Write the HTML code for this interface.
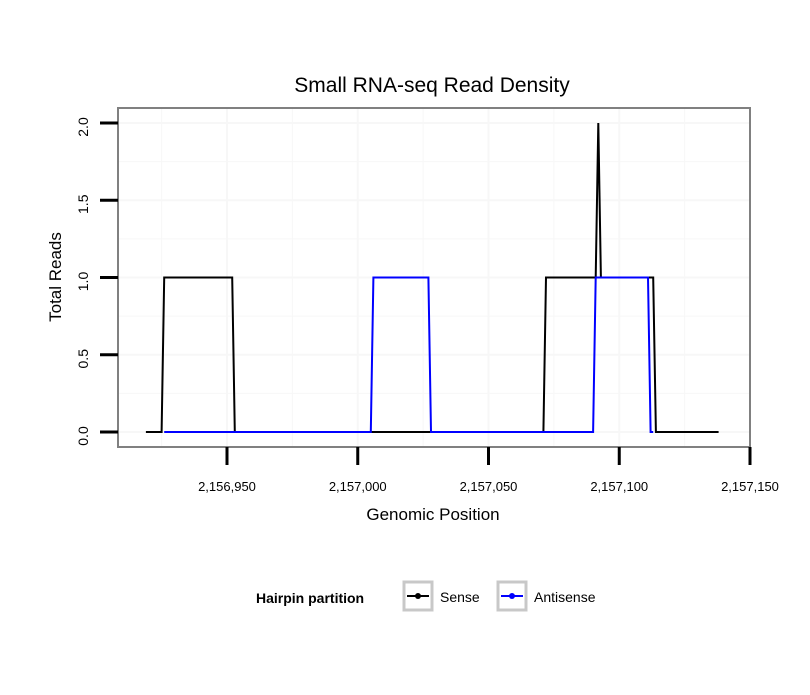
<!DOCTYPE html>
<html><head><meta charset="utf-8"><style>body{margin:0;background:#fff}svg{font-family:"Liberation Sans",sans-serif}</style></head>
<body>
<svg id="c" width="810" height="690"></svg>
<script>
const senseX=[2156919,2156925,2156926,2156952,2156953,2157071,2157072,2157091,2157092,2157093,2157113,2157114,2157138];
const senseY=[0,0,1,1,0,0,1,1,2,1,1,0,0];
const antiX=[2156926,2157005,2157006,2157027,2157028,2157090,2157091,2157111,2157112,2157113];
const antiY=[0,0,1,1,0,0,1,1,0,0];
const xTicks=[2156950,2157000,2157050,2157100,2157150];
const xTickLabels=["2,156,950","2,157,000","2,157,050","2,157,100","2,157,150"];
const yTicks=[0,0.5,1,1.5,2];
const yTickLabels=["0.0","0.5","1.0","1.5","2.0"];
const svg=document.getElementById('c');const NS='http://www.w3.org/2000/svg';
function X(p){return 227+(p-2156950)*(523/200);}
function Y(v){return 432-v*154.5;}
function mk(t,a,txt){const e=document.createElementNS(NS,t);for(const k in a)e.setAttribute(k,a[k]);if(txt!==undefined)e.textContent=txt;svg.appendChild(e);return e;}
const L=118,R=750,T=108,B=447;
for(let i=0;i<xTicks.length;i++){for(const p of [xTicks[i],xTicks[i]-25]){if(X(p)<=L||X(p)>=R)continue;const g=mk('line',{x1:X(p),x2:X(p),y1:T,y2:B,stroke:'#f7f7f7','stroke-width':p===xTicks[i]?2:1});}}
for(let i=0;i<yTicks.length;i++){for(const v of [yTicks[i],yTicks[i]+0.25]){if(Y(v)<=T)continue;const g=mk('line',{x1:L,x2:R,y1:Y(v),y2:Y(v),stroke:'#f7f7f7','stroke-width':v===yTicks[i]?2:1});}}
function line(xs,ys,col,name){const d=xs.map((p,i)=>(i?'L':'M')+X(p).toFixed(1)+' '+Y(ys[i]).toFixed(1)).join(' ');const e=mk('path',{d:d,fill:'none',stroke:col,'stroke-width':2});}
line(senseX,senseY,'#000','sense-line');
line(antiX,antiY,'#0000ff','antisense-line');
const pb=mk('rect',{x:L,y:T,width:R-L,height:B-T,fill:'none',stroke:'#808080','stroke-width':2});
for(let i=0;i<xTicks.length;i++){const x=X(xTicks[i]);const t=mk('line',{x1:x,x2:x,y1:B,y2:465,stroke:'#000','stroke-width':3});
const l=mk('text',{x:x,y:491,'font-size':13,'text-anchor':'middle'},xTickLabels[i]);}
for(let i=0;i<yTicks.length;i++){const y=Y(yTicks[i]);const t=mk('line',{x1:100,x2:L,y1:y,y2:y,stroke:'#000','stroke-width':3});
const l=mk('text',{x:0,y:0,'font-size':14,'text-anchor':'middle',transform:`translate(88,${y+4}) rotate(-90)`},yTickLabels[i]);}
let e=mk('text',{x:432,y:92,'font-size':21,'text-anchor':'middle'},'Small RNA-seq Read Density');
e=mk('text',{x:433,y:520,'font-size':17,'text-anchor':'middle'},'Genomic Position');
e=mk('text',{x:0,y:0,'font-size':17,'text-anchor':'middle',transform:'translate(61,277) rotate(-90)'},'Total Reads');
e=mk('text',{x:256,y:603,'font-size':14,'font-weight':'bold'},'Hairpin partition');
function key(x,col,label,name){const r=mk('rect',{x:x,y:582,width:28,height:28,fill:'#fff',stroke:'#c8c8c8','stroke-width':3});
const l=mk('line',{x1:x+3,x2:x+25,y1:596,y2:596,stroke:col,'stroke-width':2});
const c=mk('circle',{cx:x+14,cy:596,r:3,fill:col});
const t=mk('text',{x:x+36,y:602,'font-size':14},label);}
key(404,'#000','Sense','legend-sense');
key(498,'#0000ff','Antisense','legend-antisense');
</script>
</body></html>
